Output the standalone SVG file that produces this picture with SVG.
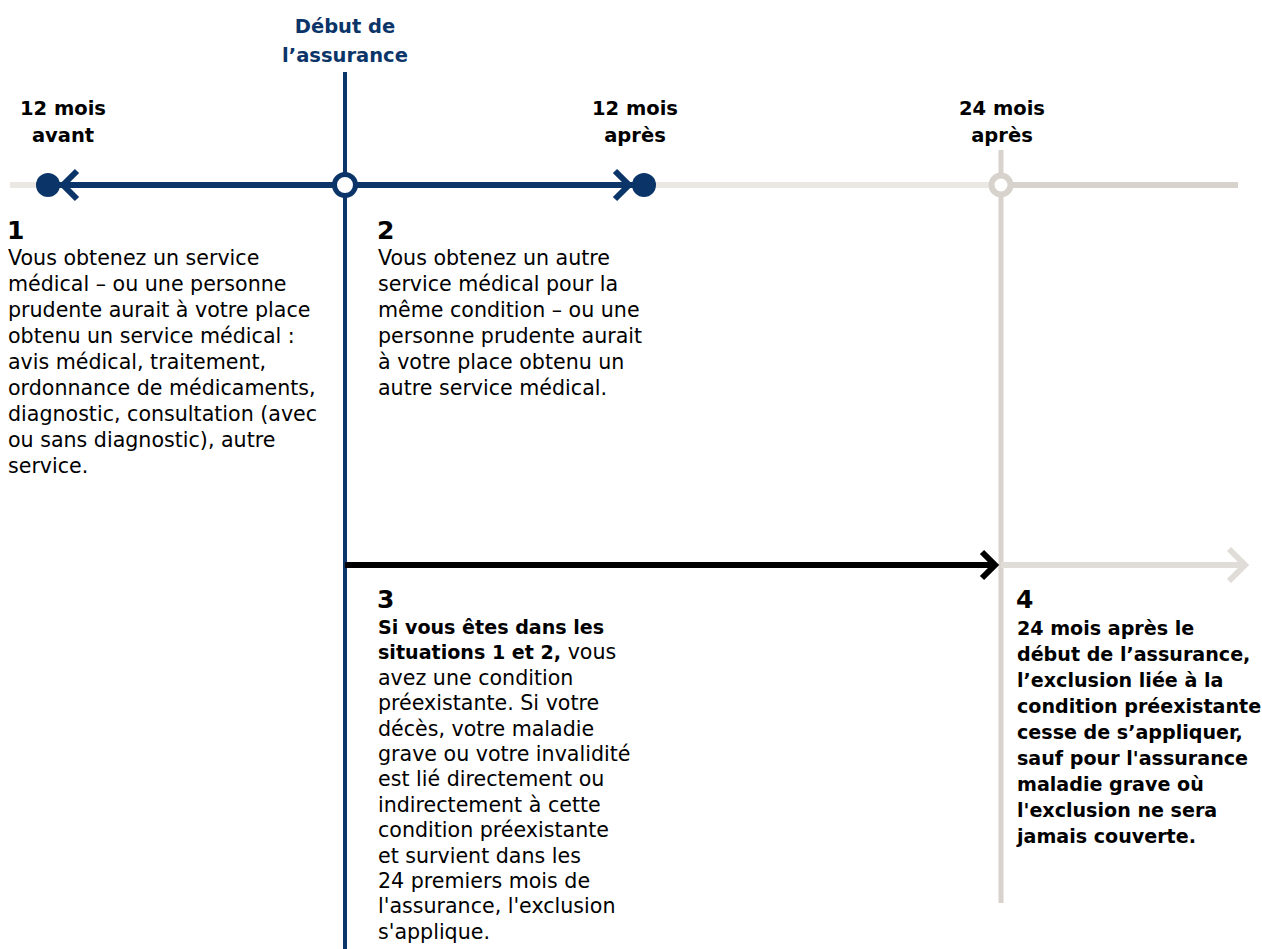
<svg xmlns="http://www.w3.org/2000/svg" width="1262" height="949" viewBox="0 0 1262 949">
<style>
  .t { font-family: "DejaVu Sans", "Open Sans", sans-serif; font-size: 20.6px; fill: #000; }
  .bb { font-size: 19.1px; font-weight: bold; }
  .num { font-size: 25px; font-weight: bold; }
  .lbl { font-family: "DejaVu Sans", "Open Sans", sans-serif; font-size: 19.5px; font-weight: bold; fill: #000; text-anchor: middle; }
  .lblblue { fill: #0b3468; }
  .chev { fill: none; stroke-linejoin: miter; stroke-linecap: butt; }
</style>
<rect width="1262" height="949" fill="#fff"/>

<g id="connectors">
  <line x1="10" y1="185" x2="1001" y2="185" stroke="#ebe8e4" stroke-width="6"/>
  <line x1="1001" y1="185" x2="1238" y2="185" stroke="#d7d2cc" stroke-width="6"/>
  <line x1="1001" y1="150" x2="1001" y2="903" stroke="#d7d2cc" stroke-width="5"/>
  <line x1="345" y1="72" x2="345" y2="949" stroke="#0b3468" stroke-width="4"/>
  <line x1="48" y1="185" x2="644" y2="185" stroke="#0b3468" stroke-width="6"/>
  <polyline class="chev" points="77,171 63,185 77,199" stroke="#0b3468" stroke-width="6"/>
  <polyline class="chev" points="615,171 629,185 615,199" stroke="#0b3468" stroke-width="6"/>
  <circle cx="48" cy="185" r="12" fill="#0b3468"/>
  <circle cx="644" cy="185" r="12" fill="#0b3468"/>
  <circle cx="345" cy="185" r="10.5" fill="#fff" stroke="#0b3468" stroke-width="5"/>
  <circle cx="1001" cy="185" r="9.5" fill="#fff" stroke="#d7d2cc" stroke-width="6"/>
  <line x1="345" y1="565" x2="994" y2="565" stroke="#000" stroke-width="6"/>
  <polyline class="chev" points="982,552 995,565 982,578" stroke="#000" stroke-width="6"/>
  <line x1="1001" y1="565" x2="1244" y2="565" stroke="#e0dcd7" stroke-width="6"/>
  <polyline class="chev" points="1229,549 1245,565 1229,581" stroke="#e0dcd7" stroke-width="6"/>
</g>

<g id="label-debut">
  <text class="lbl lblblue" x="345" y="33">Début de<tspan x="345" y="62">l’assurance</tspan></text>
</g>
<g id="label-12-avant">
  <text class="lbl" x="63" y="115">12 mois<tspan x="63" y="142">avant</tspan></text>
</g>
<g id="label-12-apres">
  <text class="lbl" x="635" y="115">12 mois<tspan x="635" y="142">après</tspan></text>
</g>
<g id="label-24-apres">
  <text class="lbl" x="1002" y="115">24 mois<tspan x="1002" y="142">après</tspan></text>
</g>

<g id="step1">
  <text class="t"><tspan class="num" x="7" y="239">1</tspan><tspan x="8" y="265">Vous obtenez un service</tspan><tspan x="8" y="291">médical – ou une personne</tspan><tspan x="8" y="317">prudente aurait à votre place</tspan><tspan x="8" y="343">obtenu un service médical :</tspan><tspan x="8" y="369">avis médical, traitement,</tspan><tspan x="8" y="395">ordonnance de médicaments,</tspan><tspan x="8" y="421">diagnostic, consultation (avec</tspan><tspan x="8" y="447">ou sans diagnostic), autre</tspan><tspan x="8" y="473">service.</tspan></text>
</g>

<g id="step2">
  <text class="t"><tspan class="num" x="377" y="239">2</tspan><tspan x="378" y="265">Vous obtenez un autre</tspan><tspan x="378" y="291">service médical pour la</tspan><tspan x="378" y="317">même condition – ou une</tspan><tspan x="378" y="343">personne prudente aurait</tspan><tspan x="378" y="369">à votre place obtenu un</tspan><tspan x="378" y="395">autre service médical.</tspan></text>
</g>

<g id="step3">
  <text class="t"><tspan class="num" x="377" y="608">3</tspan><tspan class="bb" x="378" y="634">Si vous êtes dans les</tspan><tspan class="bb" x="378" y="659.4">situations 1 et 2,</tspan><tspan> vous</tspan><tspan x="378" y="684.8">avez une condition</tspan><tspan x="378" y="710.2">préexistante. Si votre</tspan><tspan x="378" y="735.6">décès, votre maladie</tspan><tspan x="378" y="761">grave ou votre invalidité</tspan><tspan x="378" y="786.4">est lié directement ou</tspan><tspan x="378" y="811.8">indirectement à cette</tspan><tspan x="378" y="837.2">condition préexistante</tspan><tspan x="378" y="862.6">et survient dans les</tspan><tspan x="378" y="888">24 premiers mois de</tspan><tspan x="378" y="913.4">l'assurance, l'exclusion</tspan><tspan x="378" y="938.8">s'applique.</tspan></text>
</g>

<g id="step4">
  <text class="t"><tspan class="num" x="1016" y="608">4</tspan><tspan class="bb" x="1017" y="635">24 mois après le</tspan><tspan class="bb" x="1017" y="661">début de l’assurance,</tspan><tspan class="bb" x="1017" y="687">l’exclusion liée à la</tspan><tspan class="bb" x="1017" y="713">condition préexistante</tspan><tspan class="bb" x="1017" y="739">cesse de s’appliquer,</tspan><tspan class="bb" x="1017" y="765">sauf pour l'assurance</tspan><tspan class="bb" x="1017" y="791">maladie grave où</tspan><tspan class="bb" x="1017" y="817">l'exclusion ne sera</tspan><tspan class="bb" x="1017" y="843">jamais couverte.</tspan></text>
</g>
</svg>
